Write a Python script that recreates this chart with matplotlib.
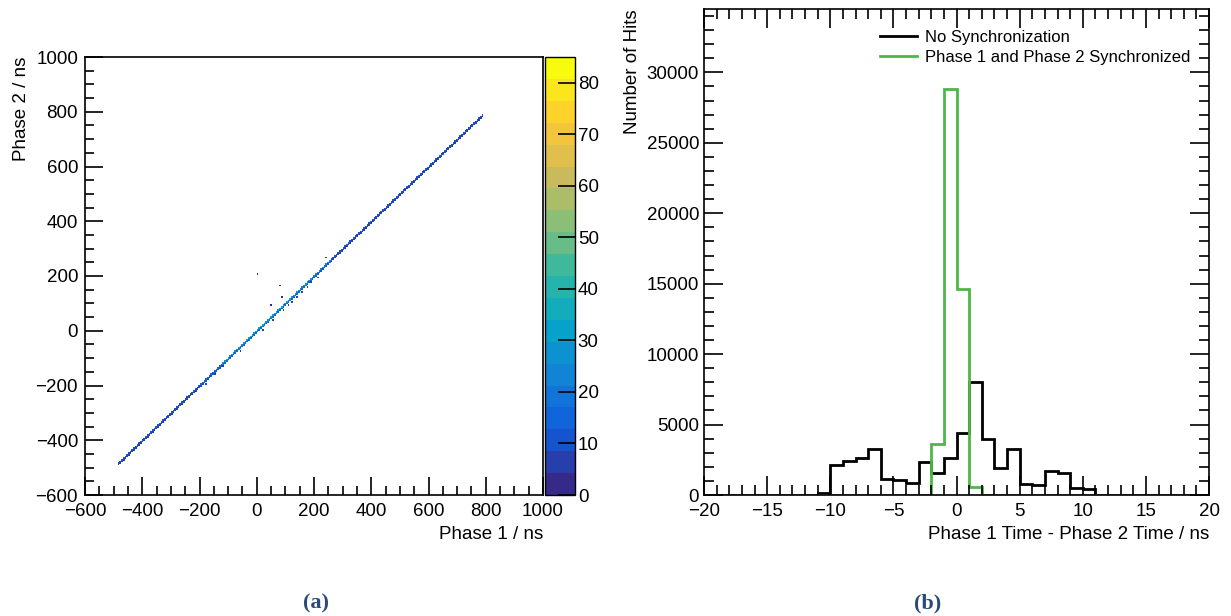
import numpy as np
import matplotlib
matplotlib.use("Agg")
import matplotlib.pyplot as plt
from matplotlib.colors import ListedColormap, LinearSegmentedColormap, BoundaryNorm
from matplotlib.ticker import MultipleLocator

plt.rcParams['font.family'] = ['Liberation Sans', 'DejaVu Sans']

# ---- (a) Phase 2 vs Phase 1 hit times ----
# Diagonal band: segment edges along Phase 1 (ns) and hits per cell
diag_seg_edges = [-488, -420, -300, -200, -120, -40, 40, 120, 200, 260, 400, 550, 700, 790]
diag_seg_counts = [9, 10, 11, 16, 26, 30, 32, 28, 24, 12, 10, 9, 9]
# Neighbouring cells just below the diagonal
below_seg_counts = [7, 8, 8, 10, 14, 16, 16, 14, 12, 8, 7, 7, 6]
# Scattered hits off the diagonal: (phase1, phase2, hits)
stray_x = [2, 81, 87, 52, 242, 174, 215, 157, 125, 93, 58, 23, -146, -117, -180, -60, 110, 190, 140]
stray_y = [205, 163, 122, 90, 268, 158, 195, 142, 107, 76, 40, 4, -161, -132, -196, -76, 92, 174, 122]
stray_n = [4, 3, 2, 4, 5, 6, 6, 5, 6, 5, 6, 5, 7, 6, 6, 5, 7, 6, 5]

# ---- (b) time difference histograms (1 ns bins from -20 to 20) ----
dt_edges = np.arange(-20, 21, 1)
hits_no_sync = [0, 0, 0, 0, 0, 0, 0, 0, 0, 120,
                2100, 2400, 2600, 3300, 1130, 1060, 830, 2330, 1530, 2600,
                4400, 8050, 3950, 1950, 3300, 780, 700, 1700, 1530, 520,
                420, 0, 0, 0, 0, 0, 0, 0, 0, 0]
hits_sync = [20, 20, 20, 20, 20, 20, 20, 20, 20, 20,
             20, 20, 20, 20, 20, 20, 20, 20, 3600, 28800,
             14600, 600, 20, 20, 20, 20, 20, 20, 20, 20,
             20, 20, 20, 20, 20, 20, 20, 20, 20, 20]

# ROOT "bird" palette, 20 contour levels
bird_stops = [0.0, 0.125, 0.25, 0.375, 0.5, 0.625, 0.75, 0.875, 1.0]
bird_r = [0.2082, 0.0592, 0.0780, 0.0232, 0.1802, 0.5301, 0.8186, 0.9956, 0.9764]
bird_g = [0.1664, 0.3599, 0.5041, 0.6419, 0.7178, 0.7492, 0.7328, 0.7862, 0.9832]
bird_b = [0.5293, 0.8684, 0.8385, 0.7914, 0.6425, 0.4662, 0.3499, 0.1968, 0.0539]
bird = LinearSegmentedColormap.from_list(
    "bird", [(s, (r, g, b)) for s, r, g, b in zip(bird_stops, bird_r, bird_g, bird_b)])
n_levels = 20
zmax = 85.0
cmap = ListedColormap([bird(v) for v in np.linspace(0, 1, n_levels)])
norm = BoundaryNorm(np.linspace(0, zmax, n_levels + 1), cmap.N)

# Build 2D histogram
bw = 6
edges2d = np.arange(-600, 1001, bw)
nb = len(edges2d) - 1
H = np.zeros((nb, nb))  # H[iy, ix]
for k in range(len(diag_seg_counts)):
    lo, hi = diag_seg_edges[k], diag_seg_edges[k + 1]
    for ix in range(nb):
        c = edges2d[ix] + bw / 2
        if lo <= c < hi:
            H[ix, ix] += diag_seg_counts[k]
            if ix > 0 and below_seg_counts[k] > 0:
                H[ix - 1, ix] += below_seg_counts[k]
for x, y, n in zip(stray_x, stray_y, stray_n):
    ix = int((x - edges2d[0]) // bw)
    iy = int((y - edges2d[0]) // bw)
    H[iy, ix] += n
Hm = np.ma.masked_where(H <= 0, H)

fig = plt.figure(figsize=(12.31, 6.16), dpi=100)

ax1 = fig.add_axes([85 / 1231, 1 - 495 / 616, 458 / 1231, 438 / 616])
cax = fig.add_axes([545 / 1231, 1 - 495 / 616, 30 / 1231, 438 / 616])
ax2 = fig.add_axes([704 / 1231, 1 - 495 / 616, 505 / 1231, 486 / 616])

mesh = ax1.pcolormesh(edges2d, edges2d, Hm, cmap=cmap, norm=norm,
                      antialiased=False, linewidth=0, rasterized=True)
ax1.set_xlim(-600, 1000)
ax1.set_ylim(-600, 1000)
ax1.xaxis.set_major_locator(MultipleLocator(200))
ax1.xaxis.set_minor_locator(MultipleLocator(50))
ax1.yaxis.set_major_locator(MultipleLocator(200))
ax1.yaxis.set_minor_locator(MultipleLocator(50))
ax1.tick_params(which='both', direction='in', top=False, right=False, labelsize=13.5, width=1.2)
ax1.tick_params(which='major', length=13)
ax1.tick_params(which='minor', length=6.5)
ax1.tick_params(axis='y', pad=5)
ax1.tick_params(axis='x', pad=6)
ax1.set_xlabel("Phase 1 / ns", fontsize=13.5, loc='right', labelpad=4)
ax1.set_ylabel("Phase 2 / ns", fontsize=13.5, loc='top', labelpad=4)
for sp in ax1.spines.values():
    sp.set_linewidth(1.2)

cb = fig.colorbar(mesh, cax=cax, ticks=np.arange(0, 81, 10))
cb.outline.set_linewidth(1.0)
cax.tick_params(direction='in', length=12, width=1.2, labelsize=13.5, pad=2)
cax.minorticks_off()

ax2.stairs(hits_no_sync, dt_edges, color='black', linewidth=2.0, label='No Synchronization')
ax2.stairs(hits_sync, dt_edges, color='#4db848', linewidth=2.0,
           label='Phase 1 and Phase 2 Synchronized')
ax2.set_xlim(-20, 20)
ax2.set_ylim(0, 34500)
ax2.xaxis.set_major_locator(MultipleLocator(5))
ax2.xaxis.set_minor_locator(MultipleLocator(1))
ax2.yaxis.set_major_locator(MultipleLocator(5000))
ax2.yaxis.set_minor_locator(MultipleLocator(1000))
ax2.tick_params(which='both', direction='in', top=True, right=True, labelsize=13.5, width=1.2)
ax2.tick_params(which='major', length=14)
ax2.tick_params(which='minor', length=7)
ax2.tick_params(axis='x', pad=6)
ax2.set_xlabel("Phase 1 Time - Phase 2 Time / ns", fontsize=13.5, loc='right', labelpad=4)
ax2.set_ylabel("Number of Hits", fontsize=13.5, loc='top', labelpad=4)
for sp in ax2.spines.values():
    sp.set_linewidth(1.2)
ax2.legend(loc='upper left', bbox_to_anchor=(0.335, 0.97), frameon=False, fontsize=12,
           handlelength=2.2, handletextpad=0.5, labelspacing=0.3, borderaxespad=0)

cap_color = '#2b4a7a'
fig.text(316 / 1231, 1 - 603 / 616, "(a)", ha='center', va='center', fontsize=16,
         fontweight='bold', color=cap_color, family=['Liberation Serif', 'DejaVu Serif'])
fig.text(928 / 1231, 1 - 603 / 616, "(b)", ha='center', va='center', fontsize=16,
         fontweight='bold', color=cap_color, family=['Liberation Serif', 'DejaVu Serif'])

fig.savefig("out.png", dpi=100)
